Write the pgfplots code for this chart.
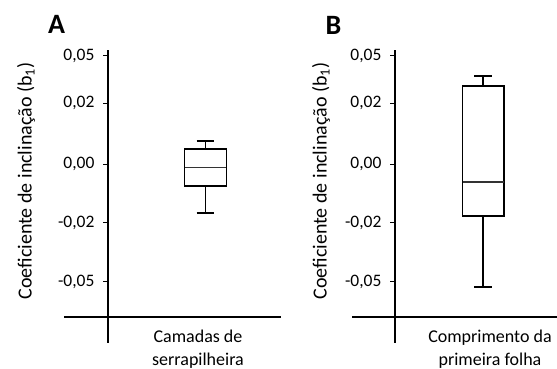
\documentclass[border=0pt]{standalone}
\usepackage{fontspec}
\setmainfont{Carlito}
\usepackage{pgfplots}
\pgfplotsset{compat=1.18}
\usepgfplotslibrary{statistics}
\begin{document}
\begin{tikzpicture}
\useasboundingbox (0pt,0pt) rectangle (557pt,369pt);
\pgfplotsset{
  panel/.style={
    scale only axis,
    height=293pt,
    ymin=-0.06007, ymax=0.03826,
    axis lines=left,
    x axis line style={draw=none},
    xtick=\empty,
    axis line style={-, line width=1.6pt, black},
    ytick={-0.0395,-0.0197,0,0.0204,0.0363},
    yticklabels={{-0,05},{-0,02},{0,00},{0,02},{0,05}},
    scaled y ticks=false,
    tick align=outside,
    major tick length=5pt,
    ytick style={line width=1pt, black},
    yticklabel style={font=\fontsize{17.5}{20}\selectfont, xshift=-5pt},
    ylabel={Coeficiente de inclinação (b\textsubscript{1})},
    clip=false,
    boxplot/draw direction=y,
    boxplot/every whisker/.style={line width=1.9pt},
    boxplot/every median/.style={draw=black!80, line width=1.6pt},
  }
}
% Panel A
\begin{axis}[panel,
  at={(108pt,26pt)}, anchor=south west,
  width=173pt, xmin=0, xmax=1.774,
  ylabel style={at={(axis description cs:-0.474,0.553)}, anchor=center, rotate=0, font=\fontsize{20}{24}\selectfont},
]
\addplot[black, line width=1.6pt, boxplot prepared={draw position=1,
  median=-0.0012, upper quartile=0.0050, lower quartile=-0.0073,
  upper whisker=0.0077, lower whisker=-0.0163,
  box extend=0.43, whisker extend=0.18}] table[row sep=\\,y index=0] {\\};
\draw[line width=1.6pt] (axis cs:-0.451,-0.05134) -- (axis cs:1.774,-0.05134);
\end{axis}
% Panel B
\begin{axis}[panel,
  at={(395pt,26pt)}, anchor=south west,
  width=162pt, xmin=0, xmax=1.835,
  ylabel style={at={(axis description cs:-0.457,0.553)}, anchor=center, rotate=0, font=\fontsize{20}{24}\selectfont},
]
\addplot[black, line width=1.6pt, boxplot prepared={draw position=1,
  median=-0.0061, upper quartile=0.0262, lower quartile=-0.0174,
  upper whisker=0.0296, lower whisker=-0.0412,
  box extend=0.468, whisker extend=0.20}] table[row sep=\\,y index=0] {\\};
\draw[line width=1.6pt] (axis cs:-0.487,-0.05134) -- (axis cs:1.835,-0.05134);
\end{axis}
\node[font=\fontsize{28}{30}\selectfont\bfseries] at (56.5pt,345pt) {A};
\node[font=\fontsize{28}{30}\selectfont\bfseries] at (333.5pt,344pt) {B};
\node[align=center, font=\fontsize{18}{23}\selectfont] at (198pt,19.5pt) {Camadas de\\serrapilheira};
\node[align=center, font=\fontsize{18}{23}\selectfont] at (490pt,19.5pt) {Comprimento da\\primeira folha};
\end{tikzpicture}
\end{document}
